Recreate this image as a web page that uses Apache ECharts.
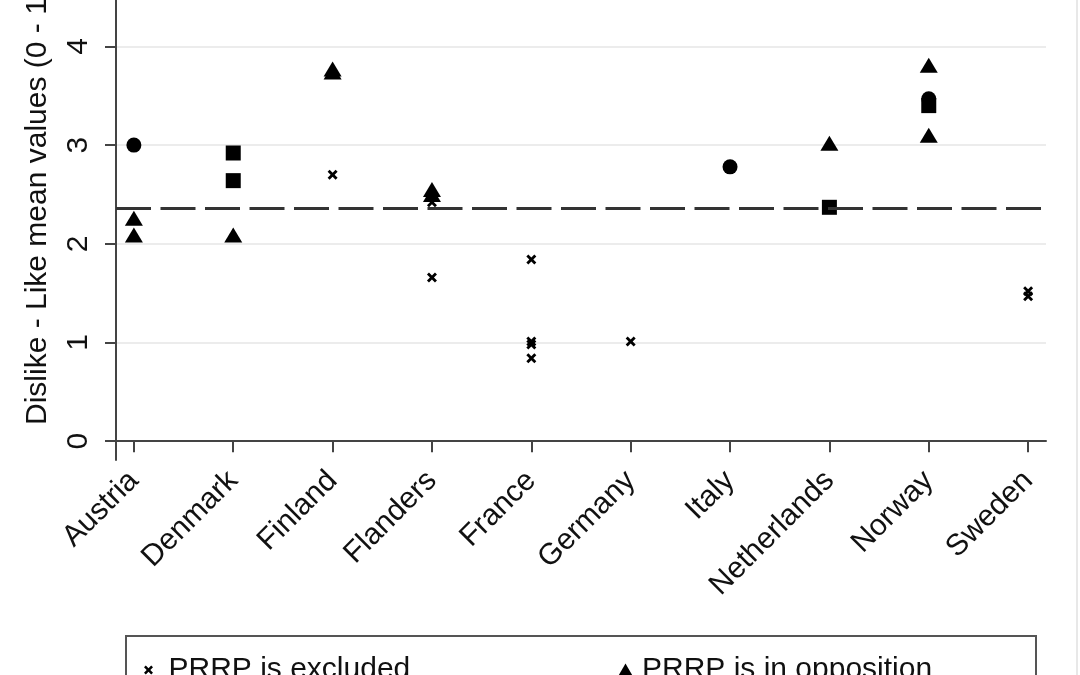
<!DOCTYPE html>
<html>
<head>
<meta charset="utf-8">
<script src="https://cdn.jsdelivr.net/npm/echarts@6/dist/echarts.min.js"></script>
<style>
  html, body { margin: 0; padding: 0; background: #fff; }
  #chart { width: 1080px; height: 675px; }
</style>
</head>
<body>
<div id="chart"></div>
<script>
var countries = ['Austria', 'Denmark', 'Finland', 'Flanders', 'France', 'Germany', 'Italy', 'Netherlands', 'Norway', 'Sweden'];
var yTicks = [0, 1, 2, 3, 4];

// [country, mean value]
var excluded = [
  ['Finland', 2.70], ['Flanders', 2.42], ['Flanders', 1.66],
  ['France', 1.84], ['France', 1.01], ['France', 0.98], ['France', 0.84],
  ['Germany', 1.01], ['Sweden', 1.52], ['Sweden', 1.47]
];
var opposition = [
  ['Austria', 2.26], ['Austria', 2.09], ['Denmark', 2.09],
  ['Finland', 3.77], ['Finland', 3.74], ['Flanders', 2.55], ['Flanders', 2.50],
  ['Netherlands', 3.02], ['Norway', 3.81], ['Norway', 3.10]
];
var squares = [['Denmark', 2.92], ['Denmark', 2.64], ['Netherlands', 2.37], ['Norway', 3.40]];
var circles = [['Austria', 3.00], ['Italy', 2.78], ['Norway', 3.47]];
var overallMean = 2.36;

var font = '"Liberation Sans", Arial, sans-serif';
var crossPath = 'path://M0,2 L2,0 L5,3 L8,0 L10,2 L7,5 L10,8 L8,10 L5,7 L2,10 L0,8 L3,5 Z';

function toXY(list){
  return list.map(function(d){
    return [countries.indexOf(d[0]) + 1, d[1]];
  });
}
var xPos = countries.map(function(c, i){ return i + 1; });
var mark = { color: '#000', opacity: 1 };

var chart = echarts.init(document.getElementById('chart'));
var option = {
  backgroundColor: '#fff',
  animation: false,
  grid: { left: 116, right: 34, top: 0, bottom: 215 },
  xAxis: {
    type: 'value',
    min: 0.82,
    max: 10.18,
    axisLine: { lineStyle: { color: '#444', width: 2 } },
    axisTick: { show: true, length: 11, customValues: xPos, lineStyle: { color: '#444', width: 2 } },
    axisLabel: {
      customValues: xPos,
      rotate: 45,
      margin: 16,
      color: '#111',
      fontFamily: font,
      fontSize: 30,
      formatter: function(v){ return countries[Math.round(v) - 1]; }
    },
    splitLine: { show: false }
  },
  yAxis: {
    type: 'value',
    min: -0.19,
    max: 4.47,
    axisLine: { show: true, lineStyle: { color: '#444', width: 2 } },
    axisTick: { show: true, length: 11, customValues: yTicks, lineStyle: { color: '#444', width: 2 } },
    axisLabel: {
      customValues: yTicks,
      rotate: 90,
      margin: 22,
      color: '#111',
      fontFamily: font,
      fontSize: 30
    },
    splitLine: { show: true, lineStyle: { color: '#ececec', width: 2 } }
  },
  legend: [{
    left: 139, top: 650,
    itemWidth: 10, itemHeight: 9,
    data: [{ name: 'PRRP is excluded', icon: crossPath }],
    itemStyle: { opacity: 1 },
    textStyle: { color: '#111', fontFamily: font, fontSize: 30, padding: [0, 0, 0, 10] }
  }, {
    left: 613, top: 650,
    itemWidth: 15, itemHeight: 13,
    data: [{ name: 'PRRP is in opposition', icon: 'triangle' }],
    itemStyle: { opacity: 1 },
    textStyle: { color: '#111', fontFamily: font, fontSize: 30, padding: [0, 0, 0, 4] }
  }],
  graphic: [
    {
      type: 'text', x: 38, y: 425, rotation: Math.PI / 2,
      style: {
        text: 'Dislike - Like mean values (0 - 10)',
        fill: '#111', font: '30px ' + font,
        textAlign: 'left', textVerticalAlign: 'middle'
      }
    },
    {
      type: 'rect', shape: { x: 126, y: 636, width: 910, height: 100 },
      style: { fill: 'none', stroke: '#555', lineWidth: 2 }
    },
    {
      type: 'line', shape: { x1: 1077, y1: 0, x2: 1077, y2: 675 },
      style: { stroke: '#e8e8e8', lineWidth: 2 }
    }
  ],
  series: [
    {
      name: 'PRRP is excluded',
      type: 'scatter',
      symbol: crossPath,
      symbolSize: 10,
      itemStyle: mark,
      data: toXY(excluded),
      markLine: {
        silent: true,
        symbol: 'none',
        label: { show: false },
        lineStyle: { color: '#333', width: 3, type: [35, 9.5] },
        data: [{ yAxis: overallMean }]
      },
      z: 4
    },
    {
      name: 'PRRP is in opposition',
      type: 'scatter',
      symbol: 'triangle',
      symbolSize: [18, 15],
      itemStyle: mark,
      data: toXY(opposition),
      z: 3
    },
    {
      name: 'square',
      type: 'scatter',
      symbol: 'rect',
      symbolSize: 15,
      itemStyle: mark,
      data: toXY(squares),
      z: 3
    },
    {
      name: 'circle',
      type: 'scatter',
      symbol: 'circle',
      symbolSize: 15,
      itemStyle: mark,
      data: toXY(circles),
      z: 3
    }
  ]
};
chart.setOption(option);
</script>
</body>
</html>
